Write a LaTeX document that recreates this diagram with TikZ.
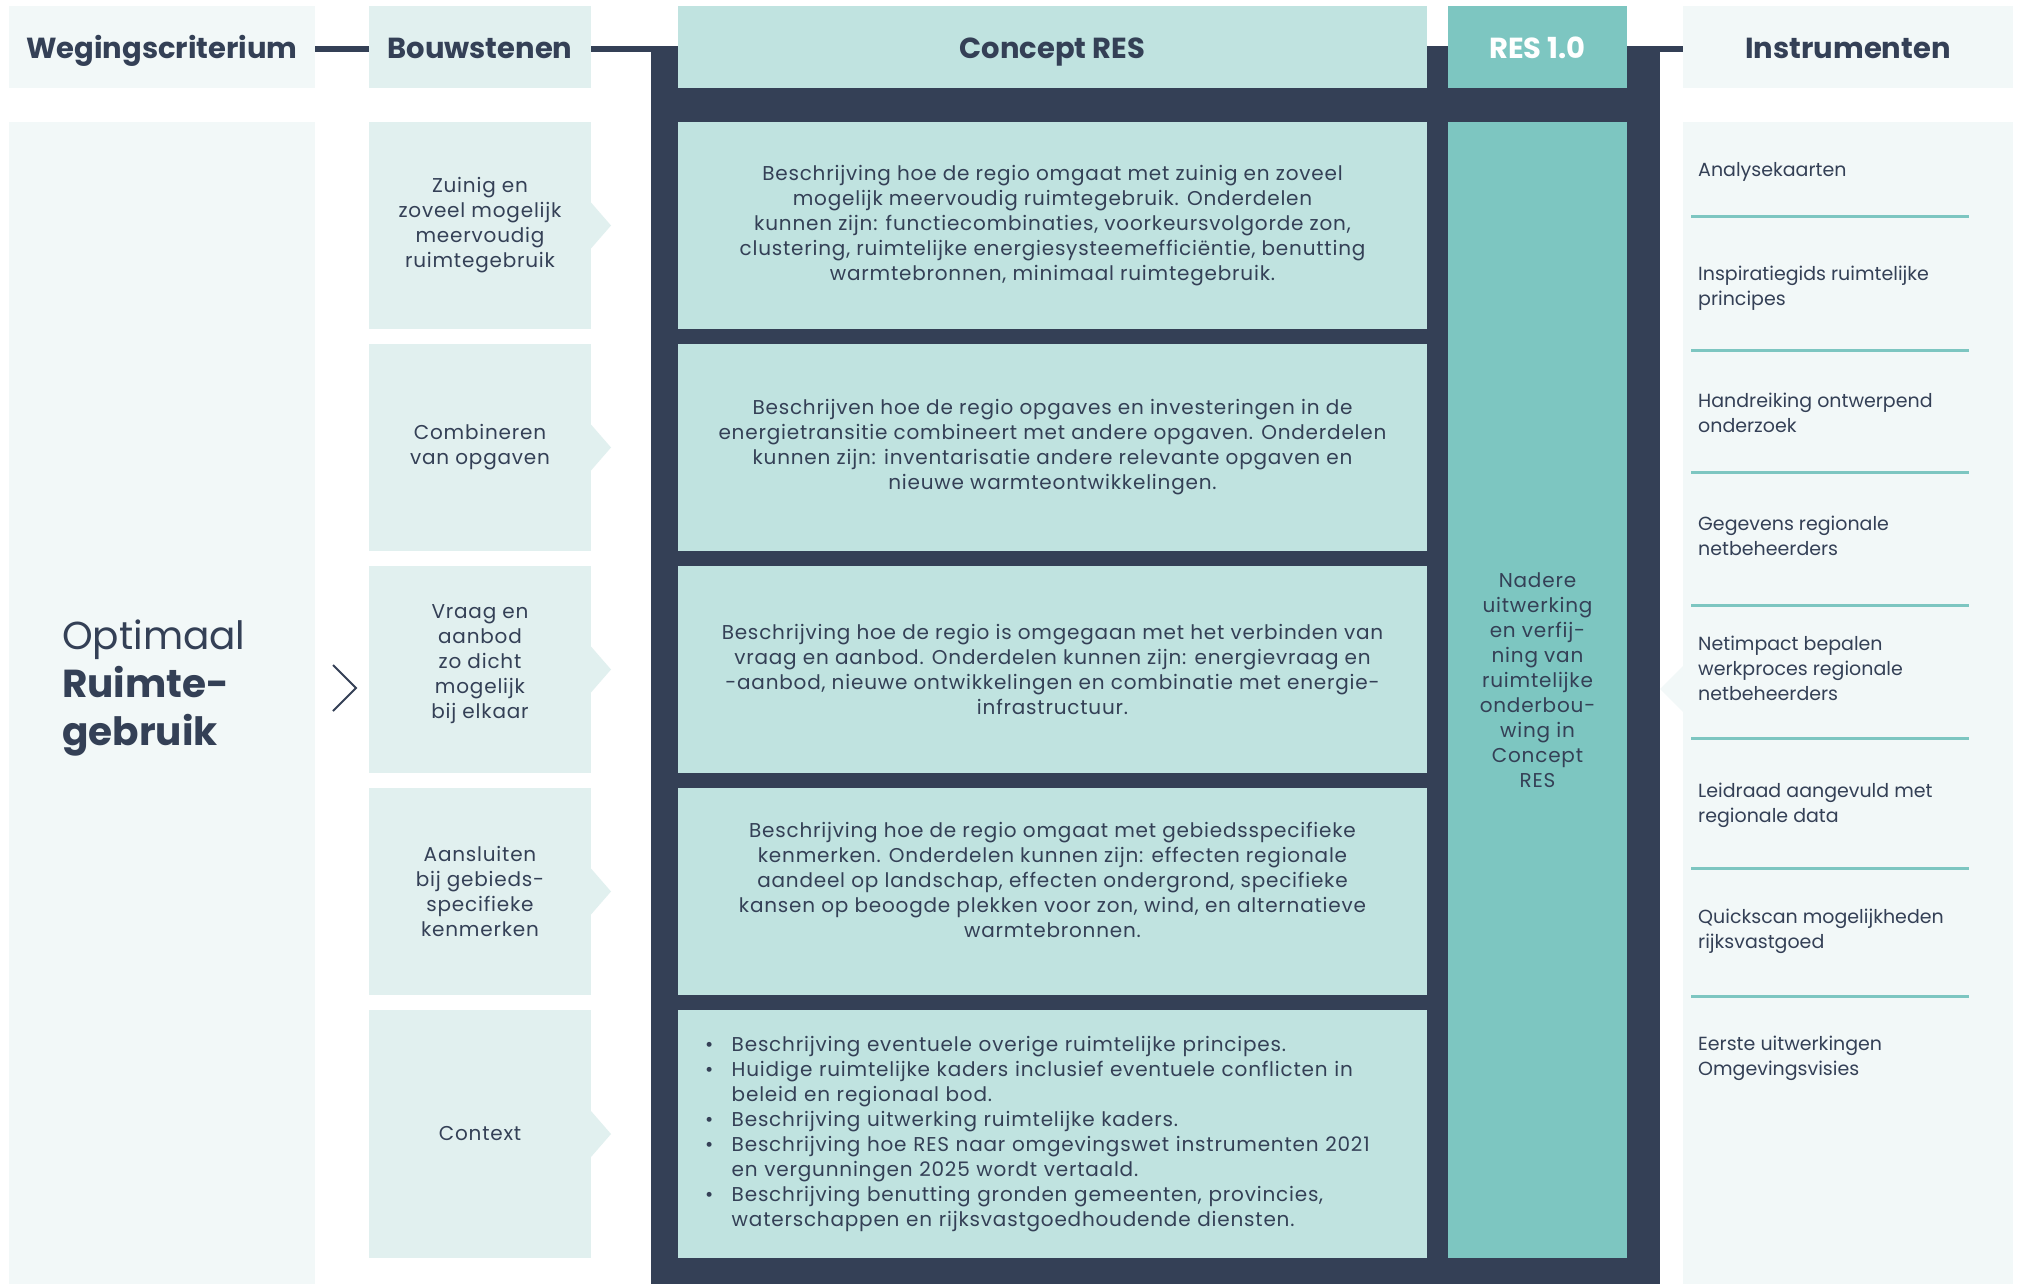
\documentclass[tikz,border=0pt]{standalone}
\usepackage{fontspec}
\setmainfont{Poppins}
\usetikzlibrary{positioning}

\definecolor{navy}{HTML}{344056}
\definecolor{conceptfill}{HTML}{C0E3E0}
\definecolor{resfill}{HTML}{7DC6C1}
\definecolor{bouwfill}{HTML}{E1F0EF}
\definecolor{critfill}{HTML}{F2F8F8}
\newcommand{\txt}{\fontsize{20}{25}\selectfont\addfontfeatures{LetterSpace=4}}
\newcommand{\instrtxt}{\fontsize{19}{25}\selectfont}

\begin{document}
\begin{tikzpicture}[x=1pt, y=-1pt, node distance=15pt,
  box/.style = {inner sep=0pt, outer sep=0pt, anchor=north west, text=navy},
  head/.style = {box, minimum height=82pt, text height=24pt, text depth=0pt, font=\fontsize{29}{36}\selectfont\bfseries},
  bouw/.style = {inner sep=0pt, outer sep=0pt, fill=bouwfill, text=navy, minimum width=222pt, minimum height=207pt, align=center, font=\txt},
  concept/.style = {inner sep=0pt, outer sep=0pt, fill=conceptfill, text=navy, minimum width=749pt, minimum height=207pt, align=center, font=\txt},
  instr/.style = {anchor=west, inner sep=0pt, text=navy, align=left, font=\instrtxt}]
\useasboundingbox[fill=white] (0,0) rectangle (2022,1284);

% frame behind the concept columns
\node[box, fill=navy, minimum width=1009pt, minimum height=1238pt] (frame) at (651,46) {};

% headers
\node[head, fill=critfill, minimum width=306pt] (hw) at (9,6) {Wegingscriterium};
\node[head, fill=bouwfill, minimum width=222pt] (hb) at (369,6) {Bouwstenen};
\node[head, fill=conceptfill, minimum width=749pt] (hc) at (678,6) {Concept RES};
\node[head, fill=resfill, text=white, minimum width=179pt] (hr) at (1448,6) {RES 1.0};
\node[head, fill=critfill, minimum width=330pt] (hi) at (1683,6) {Instrumenten};
\draw[navy, line width=6pt] ([yshift=-2pt]hw.east) -- ([yshift=-2pt]hb.west);
\draw[navy, line width=6pt] ([yshift=-2pt]hb.east) -- ([yshift=-2pt]hb.east -| frame.west);
\draw[navy, line width=6pt] ([yshift=-2pt]frame.east |- hi.west) -- ([yshift=-2pt]hi.west);

% wegingscriterium
\node[box, fill=critfill, minimum width=306pt, minimum height=1162pt] (w) at (9,122) {};
\node[anchor=west, inner sep=0pt, text=navy, align=left, font=\fontsize{39}{48}\selectfont] (opt) at (62,688) {Optimaal\\\textbf{Ruimte-}\\\textbf{gebruik}};
\draw[navy, line width=2pt] (333,665) -- (356,688) -- (333,711);

% bouwstenen
\node[bouw, anchor=north west] (b1) at (369,122) {Zuinig en\\zoveel mogelijk\\meervoudig\\ruimtegebruik};
\node[bouw] (b2) [below=of b1] {Combineren\\van opgaven};
\node[bouw] (b3) [below=of b2] {Vraag en\\aanbod\\zo dicht\\mogelijk\\bij elkaar\\[-9pt]};
\node[bouw] (b4) [below=of b3] {Aansluiten\\bij gebieds-\\specifieke\\kenmerken};
\node[bouw, minimum height=248pt] (b5) [below=of b4] {Context};
\fill[bouwfill] (b1.east) ++(0,-23) -- ++(20,23) -- ++(-20,23) -- cycle;
\fill[bouwfill] (b2.east) ++(0,-23) -- ++(20,23) -- ++(-20,23) -- cycle;
\fill[bouwfill] (b3.east) ++(0,-23) -- ++(20,23) -- ++(-20,23) -- cycle;
\fill[bouwfill] (b4.east) ++(0,-23) -- ++(20,23) -- ++(-20,23) -- cycle;
\fill[bouwfill] (b5.east) ++(0,-23) -- ++(20,23) -- ++(-20,23) -- cycle;

% concept RES
\node[concept] (c1) [right=87pt of b1] {Beschrijving hoe de regio omgaat met zuinig en zoveel\\mogelijk meervoudig ruimtegebruik. Onderdelen\\kunnen zijn: functiecombinaties, voorkeursvolgorde zon,\\clustering, ruimtelijke energiesysteemefficiëntie, benutting\\warmtebronnen, minimaal ruimtegebruik.};
\node[concept] (c2) [right=87pt of b2] {Beschrijven hoe de regio opgaves en investeringen in de\\energietransitie combineert met andere opgaven. Onderdelen\\kunnen zijn: inventarisatie andere relevante opgaven en\\nieuwe warmteontwikkelingen.};
\node[concept] (c3) [right=87pt of b3] {Beschrijving hoe de regio is omgegaan met het verbinden van\\vraag en aanbod. Onderdelen kunnen zijn: energievraag en\\-aanbod, nieuwe ontwikkelingen en combinatie met energie-\\infrastructuur.};
\node[concept] (c4) [right=87pt of b4] {Beschrijving hoe de regio omgaat met gebiedsspecifieke\\kenmerken. Onderdelen kunnen zijn: effecten regionale\\aandeel op landschap, effecten ondergrond, specifieke\\kansen op beoogde plekken voor zon, wind, en alternatieve\\warmtebronnen.\\[-1pt]};
\node[concept, minimum height=248pt, text width=695pt, align=left] (c5) [right=87pt of b5] {%
\begin{tabular}{@{}l@{\hspace{18.5pt}}l@{}}
\textbullet & Beschrijving eventuele overige ruimtelijke principes.\\
\textbullet & Huidige ruimtelijke kaders inclusief eventuele conflicten in\\
 & beleid en regionaal bod.\\
\textbullet & Beschrijving uitwerking ruimtelijke kaders.\\
\textbullet & Beschrijving hoe RES naar omgevingswet instrumenten 2021\\
 & en vergunningen 2025 wordt vertaald.\\
\textbullet & Beschrijving benutting gronden gemeenten, provincies,\\
 & waterschappen en rijksvastgoedhoudende diensten.
\end{tabular}};

% RES 1.0
\node[box, fill=resfill, minimum width=179pt, minimum height=1136pt, align=center, font=\txt] (r) at (1448,122) {Nadere\\uitwerking\\en verfij-\\ning van\\ruimtelijke\\onderbou-\\wing in\\Concept\\RES\\[-5pt]};

% instrumenten
\node[box, fill=critfill, minimum width=330pt, minimum height=1162pt] (ib) at (1683,122) {};
\fill[critfill] (1683,666) -- (1660,689) -- (1683,712) -- cycle;
\draw[resfill, line width=3pt] (1691,217) -- (1969,217);
\draw[resfill, line width=3pt] (1691,350) -- (1969,350);
\draw[resfill, line width=3pt] (1691,472) -- (1969,472);
\draw[resfill, line width=3pt] (1691,605) -- (1969,605);
\draw[resfill, line width=3pt] (1691,738) -- (1969,738);
\draw[resfill, line width=3pt] (1691,868) -- (1969,868);
\draw[resfill, line width=3pt] (1691,996) -- (1969,996);
\node[instr] (i1) at (1698,172) {Analysekaarten};
\node[instr] (i2) at (1698,288) {Inspiratiegids ruimtelijke\\principes};
\node[instr] (i3) at (1698,413) {Handreiking ontwerpend\\onderzoek};
\node[instr] (i4) at (1698,536) {Gegevens regionale\\netbeheerders};
\node[instr] (i5) at (1698,668) {Netimpact bepalen\\werkproces regionale\\netbeheerders};
\node[instr] (i6) at (1698,805) {Leidraad aangevuld met\\regionale data};
\node[instr] (i7) at (1698,931) {Quickscan mogelijkheden\\rijksvastgoed};
\node[instr] (i8) at (1698,1058) {Eerste uitwerkingen\\Omgevingsvisies};
\end{tikzpicture}
\end{document}
